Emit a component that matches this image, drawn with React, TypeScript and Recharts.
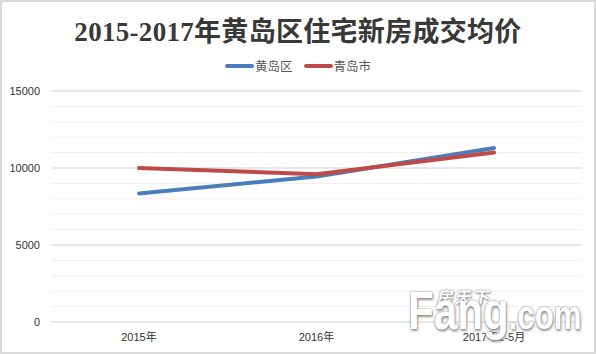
import React from 'react';
import { LineChart, Line, XAxis, YAxis, CartesianGrid, ReferenceLine, Legend } from 'recharts';

const categories = ['2015年', '2016年', '2017年1-5月'];
const huangdao = [8350, 9450, 11300];
const qingdao = [10000, 9600, 11000];
const seriesNames = ['黄岛区', '青岛市'];
const seriesColors = ['#4a7ebb', '#be4b48'];
const yTicks = [0, 1000, 2000, 3000, 4000, 5000, 6000, 7000, 8000, 9000, 10000, 11000, 12000, 13000, 14000, 15000];
const yLabels = [0, 5000, 10000, 15000];
const title = '2015-2017年黄岛区住宅新房成交均价';

const data = categories.map((c, i) => ({ name: c, hd: huangdao[i], qd: qingdao[i] }));

const FONT = '"Liberation Sans", "Noto Sans CJK SC", sans-serif';

const LegendContent = () => (
  <div style={{ display: 'flex', justifyContent: 'center', alignItems: 'center', fontFamily: FONT, fontSize: 12.5, color: '#595959' }}>
    {seriesNames.map((n, i) => (
      <div key={n} style={{ display: 'flex', alignItems: 'center', marginRight: i === 0 ? 11 : 0 }}>
        <div style={{ width: 29, height: 4, background: seriesColors[i], borderRadius: 2, marginRight: 1 }} />
        <span>{n}</span>
      </div>
    ))}
  </div>
);

export default function App() {
  return (
    <div style={{ position: 'absolute', left: 0, top: 0, width: 596, height: 354, background: '#fff', overflow: 'hidden' }}>
      <div style={{ position: 'absolute', left: 0, top: 12, width: 596, textAlign: 'center', fontFamily: '"Liberation Serif", "Noto Sans CJK SC", serif', fontWeight: 'bold', fontSize: 27, color: '#383838', lineHeight: '40px', letterSpacing: 0.3 }}>
        {title}
      </div>
      <LineChart width={596} height={354} data={data} margin={{ top: 91, right: 14, bottom: 2, left: 0 }}>
        <CartesianGrid vertical={false} stroke="#efefef" strokeWidth={1} />
        {yLabels.filter(v => v > 0).map(v => (
          <ReferenceLine key={v} y={v} stroke="#d9d9d9" strokeWidth={1} />
        ))}
        <XAxis
          dataKey="name"
          padding={{ left: 88, right: 88 }}
          axisLine={{ stroke: '#d9d9d9' }}
          tickLine={false}
          tickSize={0}
          tickMargin={11}
          height={30}
          tick={{ fill: '#333333', fontSize: 11, fontFamily: FONT }}
          interval={0}
        />
        <YAxis
          domain={[0, 15000]}
          ticks={yTicks}
          width={51}
          axisLine={false}
          tickLine={false}
          tickSize={0}
          tickMargin={11}
          interval={0}
          tickFormatter={(v: number) => (yLabels.includes(v) ? String(v) : '')}
          tick={{ fill: '#333333', fontSize: 11, fontFamily: FONT }}
        />
        <Legend verticalAlign="middle" align="center" layout="horizontal" content={<LegendContent />} wrapperStyle={{ top: 56, left: 0, width: 596 }} />
        <Line type="linear" dataKey="hd" name={seriesNames[0]} stroke={seriesColors[0]} strokeWidth={4} strokeLinecap="round" dot={false} activeDot={false} isAnimationActive={false} />
        <Line type="linear" dataKey="qd" name={seriesNames[1]} stroke={seriesColors[1]} strokeWidth={4} strokeLinecap="round" dot={false} activeDot={false} isAnimationActive={false} />
      </LineChart>
      <div style={{ position: 'absolute', left: 438, top: 284, fontFamily: FONT, fontWeight: 'bold', fontSize: 16, color: '#fff', textShadow: '0 0 2px #777, 1px 1px 2px #888', letterSpacing: 2, transform: 'skewX(-10deg)' }}>
        房天下
      </div>
      <div style={{ position: 'absolute', left: 408, top: 280, fontFamily: FONT, fontWeight: 'bold', color: '#fff', textShadow: '0 0 2px #6f6f6f, 1px 2px 3px #999', transform: 'scaleX(0.78)', transformOrigin: 'left top', whiteSpace: 'nowrap', lineHeight: '60px' }}>
        <span style={{ fontSize: 54 }}>Fang</span>
        <span style={{ fontSize: 40 }}>.com</span>
      </div>
      <div style={{ position: 'absolute', left: 0, top: 0, width: 596, height: 354, boxSizing: 'border-box', border: '2px solid #d9d9d9', pointerEvents: 'none' }} />
    </div>
  );
}
